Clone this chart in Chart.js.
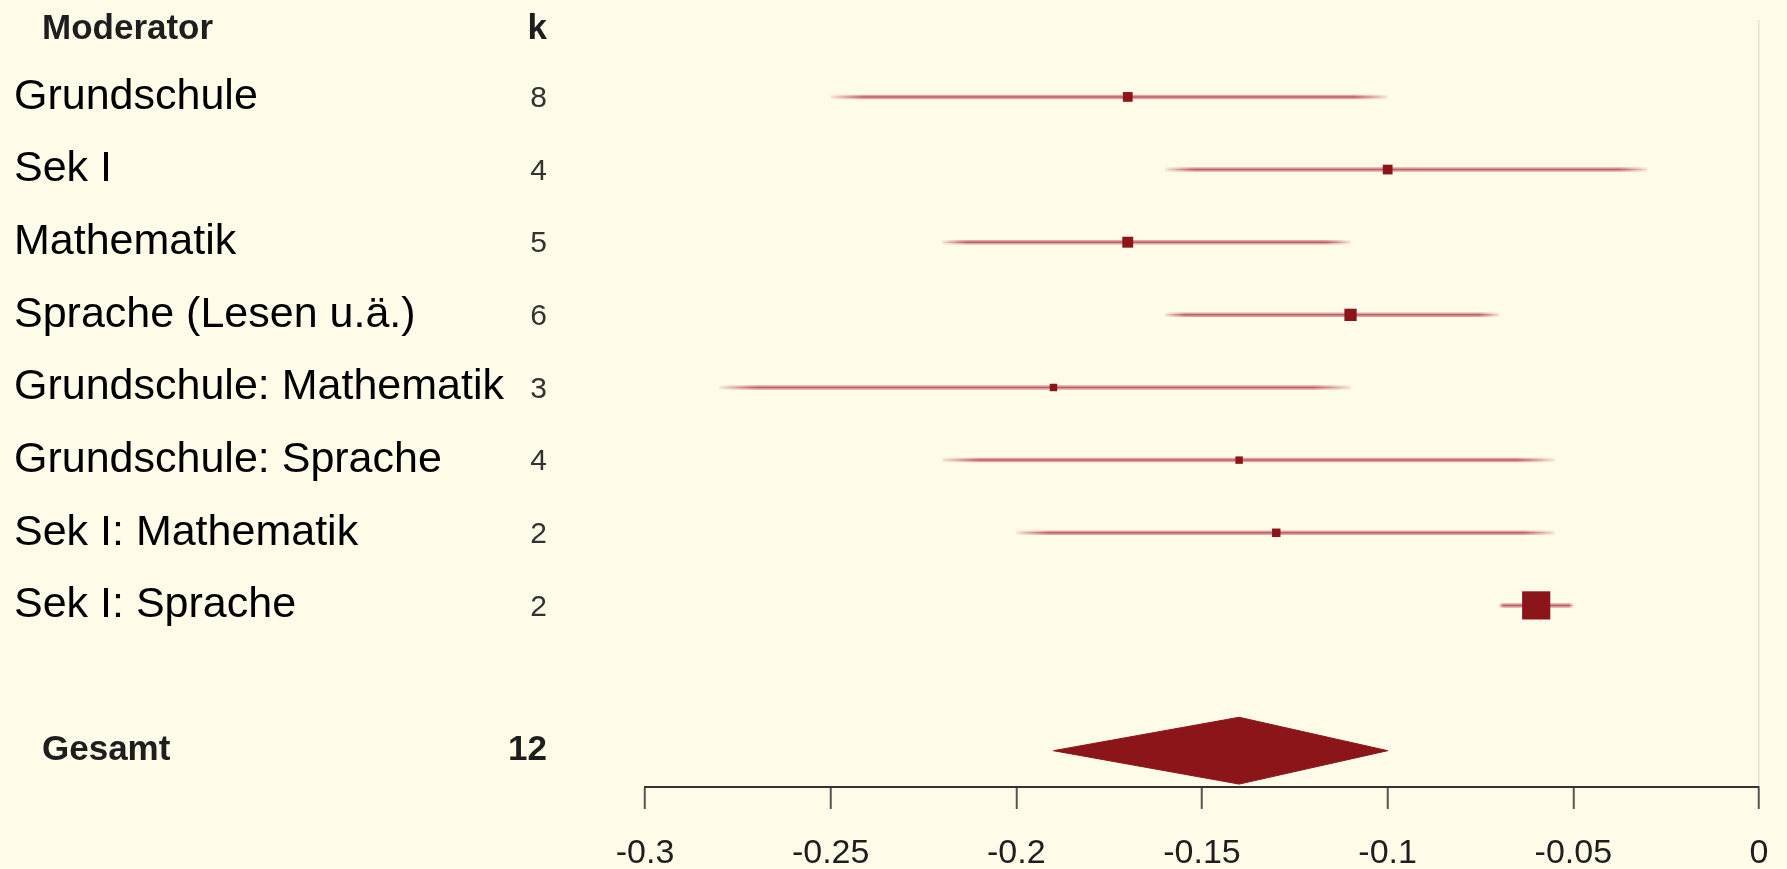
<!DOCTYPE html>
<html>
<head>
<meta charset="utf-8">
<script src="https://cdn.jsdelivr.net/npm/chart.js@4/dist/chart.umd.min.js"></script>
<style>
  html, body { margin: 0; padding: 0; background: #fefbe8; }
  #wrap { width: 1787px; height: 869px; }
</style>
</head>
<body>
<div id="wrap"><canvas id="forest" width="1787" height="869"></canvas></div>
<script>
  // moderator rows, top to bottom
  const moderators = [
    'Grundschule',
    'Sek I',
    'Mathematik',
    'Sprache (Lesen u.ä.)',
    'Grundschule: Mathematik',
    'Grundschule: Sprache',
    'Sek I: Mathematik',
    'Sek I: Sprache',
  ];
  const studies = [8, 4, 5, 6, 3, 4, 2, 2];
  const effects = [-0.17, -0.10, -0.17, -0.11, -0.19, -0.14, -0.13, -0.06];
  const ciLower = [-0.25, -0.16, -0.22, -0.16, -0.28, -0.22, -0.20, -0.07];
  const ciUpper = [-0.10, -0.03, -0.11, -0.07, -0.11, -0.055, -0.055, -0.05];
  const weights = [1.2, 1.2, 1.5, 1.9, 0.7, 0.7, 0.9, 10];

  const totalLabel = 'Gesamt';
  const totalStudies = 12;
  const totalEffect = -0.14;
  const totalLower = -0.19;
  const totalUpper = -0.10;

  const xTicks = [-0.3, -0.25, -0.2, -0.15, -0.1, -0.05, 0];

  const RED = '#8c1519';
  const BG = '#fefbe8';
  const FONT = '"Liberation Sans", Arial, sans-serif';
  const totalRow = moderators.length + 1;

  function ciGradient(chart, lo, hi, alpha) {
    const xs = chart.scales.x;
    if (!xs || !chart.chartArea) return `rgba(170,30,50,${alpha})`;
    const x0 = xs.getPixelForValue(lo);
    const x1 = xs.getPixelForValue(hi);
    const g = chart.ctx.createLinearGradient(x0, 0, x1, 0);
    g.addColorStop(0, 'rgba(170,30,50,0.05)');
    g.addColorStop(0.06, `rgba(170,30,50,${alpha})`);
    g.addColorStop(0.94, `rgba(170,30,50,${alpha})`);
    g.addColorStop(1, 'rgba(170,30,50,0.05)');
    return g;
  }

  const ciOuter = moderators.map((m, i) => ({
    type: 'line',
    data: [{ x: ciLower[i], y: i }, { x: ciUpper[i], y: i }],
    borderColor: (c) => ciGradient(c.chart, ciLower[i], ciUpper[i], 0.38),
    borderWidth: 4.5,
    pointRadius: 0,
    order: 2,
  }));
  const ciInner = moderators.map((m, i) => ({
    type: 'line',
    data: [{ x: ciLower[i], y: i }, { x: ciUpper[i], y: i }],
    borderColor: (c) => ciGradient(c.chart, ciLower[i], ciUpper[i], 0.55),
    borderWidth: 1.5,
    pointRadius: 0,
    order: 1,
  }));

  const boxes = {
    type: 'scatter',
    data: effects.map((e, i) => ({ x: e, y: i })),
    pointStyle: 'rect',
    pointRadius: weights.map((w) => 6.3 * Math.sqrt(w)),
    backgroundColor: RED,
    borderColor: RED,
    borderWidth: 0,
    order: 0,
  };

  const diamond = {
    type: 'line',
    data: [
      { x: totalLower, y: totalRow },
      { x: totalEffect, y: totalRow - 0.46 },
      { x: totalUpper, y: totalRow },
      { x: totalEffect, y: totalRow + 0.46 },
      { x: totalLower, y: totalRow },
    ],
    borderColor: RED,
    backgroundColor: RED,
    borderWidth: 1,
    pointRadius: 0,
    tension: 0,
    fill: 'shape',
    order: 0,
  };

  const textColumns = {
    id: 'textColumns',
    beforeDraw(chart) {
      const ctx = chart.ctx;
      ctx.save();
      ctx.fillStyle = BG;
      ctx.fillRect(0, 0, chart.width, chart.height);
      ctx.restore();
    },
    afterDraw(chart) {
      const ctx = chart.ctx;
      const ys = chart.scales.y;
      ctx.save();
      ctx.textBaseline = 'middle';

      // header
      const hy = ys.getPixelForValue(-0.93);
      ctx.font = `bold 35px ${FONT}`;
      ctx.fillStyle = '#1e1e1e';
      ctx.textAlign = 'left';
      ctx.fillText('Moderator', 42, hy);
      ctx.textAlign = 'right';
      ctx.fillText('k', 547, hy);

      moderators.forEach((m, i) => {
        const y = ys.getPixelForValue(i);
        ctx.font = `43px ${FONT}`;
        ctx.fillStyle = '#000';
        ctx.textAlign = 'left';
        ctx.fillText(m, 14, y);
        ctx.font = `30px ${FONT}`;
        ctx.fillStyle = '#333';
        ctx.textAlign = 'right';
        ctx.fillText(String(studies[i]), 547, y + 2);
      });

      const ty = ys.getPixelForValue(totalRow);
      ctx.font = `bold 35px ${FONT}`;
      ctx.fillStyle = '#1e1e1e';
      ctx.textAlign = 'left';
      ctx.fillText(totalLabel, 42, ty);
      ctx.textAlign = 'right';
      ctx.fillText(String(totalStudies), 547, ty);
      ctx.restore();
    },
  };

  new Chart(document.getElementById('forest'), {
    data: { datasets: [boxes, diamond, ...ciInner, ...ciOuter] },
    options: {
      responsive: false,
      animation: false,
      layout: { padding: { left: 645, right: 28, top: 1, bottom: 0 } },
      plugins: { legend: { display: false }, tooltip: { enabled: false } },
      scales: {
        x: {
          type: 'linear',
          min: xTicks[0],
          max: xTicks[xTicks.length - 1],
          afterBuildTicks: (scale) => { scale.ticks = xTicks.map((v) => ({ value: v })); },
          afterFit: (scale) => {
            scale.height = 82;
            scale.paddingLeft = 0;
            scale.paddingRight = 0;
          },
          border: { display: true, color: '#333', width: 2 },
          grid: {
            drawOnChartArea: true,
            color: (c) => (c.tick && Math.abs(c.tick.value) < 1e-9 ? '#e4e2d6' : 'rgba(0,0,0,0)'),
            lineWidth: 1.5,
            tickLength: 22,
            tickColor: '#555',
            tickWidth: 2,
          },
          ticks: {
            padding: 24,
            color: '#1e1e1e',
            font: { family: FONT, size: 34 },
            callback: (v) => String(Math.round(v * 100) / 100),
          },
        },
        y: {
          type: 'linear',
          display: false,
          reverse: true,
          min: -1.06,
          max: totalRow + 0.5,
        },
      },
    },
    plugins: [textColumns],
  });
</script>
</body>
</html>
